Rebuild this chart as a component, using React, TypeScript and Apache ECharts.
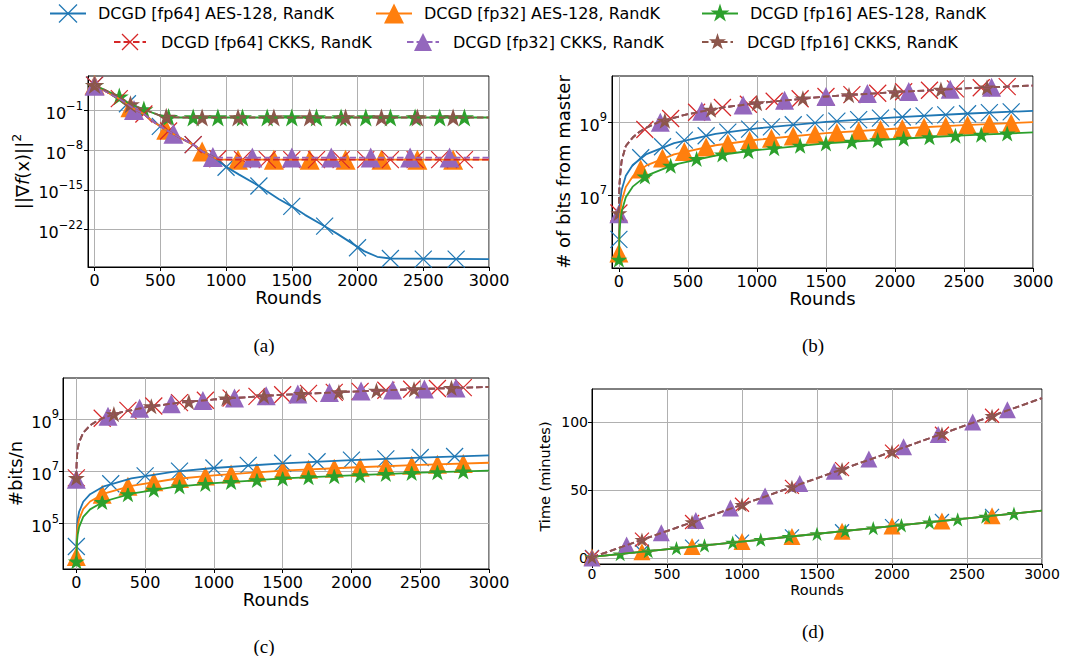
import React, { useEffect, useRef } from 'react';
import * as echarts from 'echarts';

const FONT = 'DejaVu Sans';

// ---------- series meta ----------
const SERIES_NAMES = [
  'DCGD [fp64] AES-128, RandK',
  'DCGD [fp32] AES-128, RandK',
  'DCGD [fp16] AES-128, RandK',
  'DCGD [fp64] CKKS, RandK',
  'DCGD [fp32] CKKS, RandK',
  'DCGD [fp16] CKKS, RandK',
];
const COLORS = ['#1f77b4', '#ff7f0e', '#2ca02c', '#d62728', '#9467bd', '#8c564b'];
const SHAPES = ['x', 'triangle', 'star', 'x', 'triangle', 'star'];
const DASHED = [false, false, false, true, true, true];

// ---------- tick values ----------
const ROUNDS_TICKS = [0, 500, 1000, 1500, 2000, 2500, 3000];
const A_Y_TICKS = [-22, -15, -8, -1]; // log10 exponents
const B_Y_TICKS = [7, 9];
const C_Y_TICKS = [5, 7, 9];
const D_Y_TICKS = [0, 50, 100];

// ---------- (a) ||grad f(x)||^2, log10 values ----------
const A_LINE_FP64_AES = [[0, 3.5], [100, 2.2], [200, 0.9], [250, 0.2], [300, -0.7], [375, -1.6], [450, -3.0], [550, -4.5], [650, -5.8], [750, -7.0], [820, -8.2], [900, -9.1], [1000, -10.9], [1100, -12.3], [1250, -14.3], [1400, -16.6], [1500, -17.9], [1600, -19.4], [1750, -21.4], [1850, -22.8], [1950, -24.3], [2050, -25.8], [2150, -26.8], [2250, -27.1], [3000, -27.2]];
const A_LINE_FP32_AES = [[0, 3.5], [100, 2.2], [200, 0.9], [250, 0.2], [300, -0.7], [375, -1.6], [450, -3.0], [550, -4.5], [650, -5.8], [750, -7.0], [820, -8.2], [900, -9.2], [940, -9.66], [3000, -9.66]];
const A_LINE_FP16_AES = [[0, 3.5], [100, 2.4], [190, 1.45], [265, 0.2], [385, -0.9], [480, -1.7], [560, -2.15], [650, -2.22], [3000, -2.22]];
const A_LINE_FP64_CKKS = [[0, 3.5], [100, 2.2], [200, 0.9], [250, 0.2], [300, -0.7], [375, -1.6], [450, -3.0], [550, -4.5], [650, -5.8], [750, -7.0], [820, -8.2], [900, -9.2], [950, -9.66], [3000, -9.66]];
const A_LINE_FP32_CKKS = [[0, 3.5], [100, 2.2], [200, 0.9], [250, 0.2], [300, -0.7], [375, -1.6], [450, -3.0], [550, -4.5], [650, -5.8], [750, -7.0], [820, -8.2], [900, -9.2], [930, -9.3], [3000, -9.3]];
const A_LINE_FP16_CKKS = [[0, 3.5], [100, 2.4], [190, 1.45], [265, 0.2], [385, -0.9], [480, -1.7], [560, -2.15], [650, -2.22], [3000, -2.22]];

const A_MARK_FP64_AES = [[0, 3.5], [250, 0.2], [500, -3.8], [750, -7.0], [1000, -11.0], [1250, -14.3], [1500, -17.9], [1750, -21.4], [2000, -25.2], [2250, -27.1], [2500, -27.2], [2750, -27.2]];
const A_MARK_FP32_AES = [[0, 3.5], [273, -0.4], [545, -4.4], [818, -8.2], [1091, -9.66], [1364, -9.66], [1636, -9.66], [1909, -9.66], [2182, -9.66], [2455, -9.66], [2727, -9.66]];
const A_MARK_FP16_AES = [[0, 3.5], [188, 1.47], [375, -0.8], [563, -2.15], [750, -2.22], [938, -2.22], [1125, -2.22], [1313, -2.22], [1500, -2.22], [1688, -2.22], [1875, -2.22], [2063, -2.22], [2250, -2.22], [2438, -2.22], [2625, -2.22], [2813, -2.22]];
const A_MARK_FP64_CKKS = [[0, 3.5], [188, 1.1], [375, -1.6], [563, -4.6], [750, -7.0], [938, -9.5], [1125, -9.66], [1313, -9.66], [1500, -9.66], [1688, -9.66], [1875, -9.66], [2063, -9.66], [2250, -9.66], [2438, -9.66], [2625, -9.66], [2813, -9.66]];
const A_MARK_FP32_CKKS = [[0, 3.4], [300, -0.9], [600, -5.1], [900, -9.2], [1200, -9.3], [1500, -9.3], [1800, -9.3], [2100, -9.3], [2400, -9.3], [2700, -9.3]];
const A_MARK_FP16_CKKS = [[0, 3.5], [273, 0.1], [545, -2.1], [818, -2.22], [1091, -2.22], [1364, -2.22], [1636, -2.22], [1909, -2.22], [2182, -2.22], [2455, -2.22], [2727, -2.22]];

// ---------- (b) # of bits from master, log10 values ----------
const B_LINE_FP64_AES = [[0, 5.8], [5, 6.6], [10, 6.87], [20, 7.15], [50, 7.54], [100, 7.83], [200, 8.13], [400, 8.43], [700, 8.68], [1000, 8.83], [1500, 9.01], [2000, 9.13], [2500, 9.23], [3000, 9.31]];
const B_LINE_FP32_AES = [[0, 5.43], [5, 6.3], [10, 6.56], [20, 6.84], [50, 7.23], [100, 7.52], [200, 7.82], [400, 8.12], [700, 8.37], [1000, 8.52], [1500, 8.7], [2000, 8.82], [2500, 8.92], [3000, 9.0]];
const B_LINE_FP16_AES = [[0, 5.25], [5, 6.02], [10, 6.28], [20, 6.56], [50, 6.95], [100, 7.24], [200, 7.54], [400, 7.84], [700, 8.09], [1000, 8.24], [1500, 8.42], [2000, 8.54], [2500, 8.64], [3000, 8.72]];
const B_LINE_CKKS = [[0, 6.52], [1, 6.85], [2, 7.02], [5, 7.35], [10, 7.6], [20, 7.95], [50, 8.35], [100, 8.58], [150, 8.74], [200, 8.85], [300, 9.02], [500, 9.22], [750, 9.4], [1000, 9.52], [1500, 9.7], [2000, 9.82], [2500, 9.92], [3000, 10.0]];

const B_MARK_FP64_AES = [[0, 5.8], [158, 8.03], [316, 8.33], [474, 8.51], [632, 8.63], [789, 8.73], [947, 8.81], [1105, 8.87], [1263, 8.93], [1421, 8.98], [1579, 9.03], [1737, 9.07], [1895, 9.11], [2053, 9.14], [2211, 9.17], [2368, 9.2], [2526, 9.23], [2684, 9.26], [2842, 9.28]];
const B_MARK_FP32_AES = [[0, 5.43], [158, 7.72], [316, 8.02], [474, 8.2], [632, 8.32], [789, 8.42], [947, 8.5], [1105, 8.56], [1263, 8.62], [1421, 8.67], [1579, 8.72], [1737, 8.76], [1895, 8.8], [2053, 8.83], [2211, 8.86], [2368, 8.89], [2526, 8.92], [2684, 8.95], [2842, 8.97]];
const B_MARK_FP16_AES = [[0, 5.25], [188, 7.52], [375, 7.81], [563, 8.0], [750, 8.12], [938, 8.21], [1125, 8.29], [1313, 8.36], [1500, 8.42], [1688, 8.47], [1875, 8.51], [2063, 8.55], [2250, 8.59], [2438, 8.63], [2625, 8.66], [2813, 8.69]];
const B_MARK_FP64_CKKS = [[0, 6.52], [188, 8.8], [375, 9.1], [563, 9.27], [750, 9.4], [938, 9.49], [1125, 9.57], [1313, 9.64], [1500, 9.7], [1688, 9.75], [1875, 9.79], [2063, 9.83], [2250, 9.87], [2438, 9.91], [2625, 9.94], [2813, 9.97]];
const B_MARK_FP32_CKKS = [[0, 6.5], [300, 9.0], [600, 9.3], [900, 9.47], [1200, 9.6], [1500, 9.7], [1800, 9.78], [2100, 9.84], [2400, 9.9], [2700, 9.95]];
const B_MARK_FP16_CKKS = [[0, 6.52], [333, 9.04], [667, 9.34], [1000, 9.52], [1333, 9.65], [1667, 9.74], [2000, 9.82], [2333, 9.89], [2667, 9.95]];

// ---------- (c) #bits/n, log10 values ----------
const C_LINE_FP64_AES = [[0, 4.13], [5, 4.9], [10, 5.17], [20, 5.45], [50, 5.84], [100, 6.13], [200, 6.43], [400, 6.73], [700, 6.98], [1000, 7.13], [1500, 7.31], [2000, 7.43], [2500, 7.53], [3000, 7.61]];
const C_LINE_FP32_AES = [[0, 3.75], [5, 4.63], [10, 4.89], [20, 5.17], [50, 5.56], [100, 5.85], [200, 6.15], [400, 6.45], [700, 6.7], [1000, 6.85], [1500, 7.03], [2000, 7.15], [2500, 7.25], [3000, 7.33]];
const C_LINE_FP16_AES = [[0, 3.56], [5, 4.33], [10, 4.59], [20, 4.87], [50, 5.26], [100, 5.55], [200, 5.85], [400, 6.15], [700, 6.4], [1000, 6.55], [1500, 6.73], [2000, 6.85], [2500, 6.95], [3000, 7.03]];
const C_LINE_CKKS = [[0, 6.75], [1, 7.1], [2, 7.3], [5, 7.6], [10, 7.85], [20, 8.12], [50, 8.48], [100, 8.76], [150, 8.93], [200, 9.05], [300, 9.23], [500, 9.45], [750, 9.63], [1000, 9.75], [1500, 9.93], [2000, 10.05], [2500, 10.15], [3000, 10.23]];

const C_MARK_FP64_AES = [[0, 4.13], [250, 6.53], [500, 6.83], [750, 7.01], [1000, 7.13], [1250, 7.23], [1500, 7.31], [1750, 7.37], [2000, 7.43], [2250, 7.48], [2500, 7.53], [2750, 7.57]];
const C_MARK_FP32_AES = [[0, 3.75], [188, 6.13], [375, 6.43], [563, 6.6], [750, 6.73], [938, 6.82], [1125, 6.9], [1313, 6.97], [1500, 7.03], [1688, 7.08], [1875, 7.12], [2063, 7.16], [2250, 7.2], [2438, 7.24], [2625, 7.27], [2813, 7.3]];
const C_MARK_FP16_AES = [[0, 3.56], [188, 5.83], [375, 6.13], [563, 6.3], [750, 6.43], [938, 6.52], [1125, 6.6], [1313, 6.67], [1500, 6.73], [1688, 6.78], [1875, 6.82], [2063, 6.86], [2250, 6.9], [2438, 6.94], [2625, 6.97], [2813, 7.0]];
const C_MARK_FP64_CKKS = [[0, 6.75], [188, 9.03], [375, 9.33], [563, 9.5], [750, 9.63], [938, 9.72], [1125, 9.8], [1313, 9.87], [1500, 9.93], [1688, 9.98], [1875, 10.02], [2063, 10.06], [2250, 10.1], [2438, 10.14], [2625, 10.17], [2813, 10.2]];
const C_MARK_FP32_CKKS = [[0, 6.7], [230, 9.11], [460, 9.41], [690, 9.59], [920, 9.71], [1150, 9.81], [1380, 9.89], [1610, 9.96], [1840, 10.02], [2070, 10.07], [2300, 10.11], [2530, 10.15], [2760, 10.19]];
const C_MARK_FP16_CKKS = [[0, 6.75], [273, 9.19], [545, 9.49], [818, 9.66], [1091, 9.79], [1364, 9.88], [1636, 9.96], [1909, 10.03], [2182, 10.09], [2455, 10.14], [2727, 10.19]];

// ---------- (d) Time (minutes) ----------
const D_LINE_AES = [[0, 0.8], [1000, 12.1], [2000, 23.5], [3000, 34.8]];
const D_LINE_CKKS = [[0, 0.5], [1000, 39.2], [2000, 78.2], [3000, 117.6]];

const D_MARK_FP64_AES = [[0, 0.8], [333, 4.6], [667, 8.4], [1000, 12.1], [1333, 15.9], [1667, 19.7], [2000, 23.5], [2333, 27.2], [2667, 31.0]];
const D_MARK_FP32_AES = [[0, 0.8], [333, 4.6], [667, 8.4], [1000, 12.1], [1333, 15.9], [1667, 19.7], [2000, 23.5], [2333, 27.2], [2667, 31.0]];
const D_MARK_FP16_AES = [[0, 0.8], [188, 2.9], [375, 5.0], [563, 7.2], [750, 9.3], [938, 11.4], [1125, 13.5], [1313, 15.7], [1500, 17.8], [1688, 19.9], [1875, 22.0], [2063, 24.1], [2250, 26.3], [2438, 28.4], [2625, 30.5], [2813, 32.6]];
const D_MARK_FP64_CKKS = [[0, 0.5], [333, 13.5], [667, 26.5], [1000, 39.2], [1333, 52.3], [1667, 65.4], [2000, 78.2], [2333, 91.4], [2667, 104.6]];
const D_MARK_FP32_CKKS = [[0, 0.0], [231, 9.5], [462, 18.5], [692, 27.5], [923, 36.7], [1154, 45.7], [1385, 54.8], [1615, 63.8], [1846, 72.8], [2077, 81.9], [2308, 90.9], [2538, 100.0], [2769, 109.0]];
const D_MARK_FP16_CKKS = [[0, 0.5], [333, 13.5], [667, 26.5], [1000, 39.2], [1333, 52.3], [1667, 65.4], [2000, 78.2], [2333, 91.4], [2667, 104.6]];

// ---------- panels (layout) ----------
const STAR_UNIT = [[0, -1], [0.2245, -0.309], [0.951, -0.309], [0.363, 0.118], [0.588, 0.809], [0, 0.382], [-0.588, 0.809], [-0.363, 0.118], [-0.951, -0.309], [-0.2245, -0.309]];
const STAR_PATH = 'path://' + STAR_UNIT.map((p, i) => (i === 0 ? 'M' : 'L') + (p[0] + 1).toFixed(4) + ',' + (p[1] + 1).toFixed(4)).join('') + 'Z';
const X_PATH = 'path://M0,0L10,10M10,0L0,10';

const supMinus = (v: number) => (v < 0 ? '\u2212' + String(-v) : String(v));

const PANELS = [
  {
    grid: { left: 88, top: 76, width: 401, height: 191 },
    xMin: -50, yMin: -28.6, yMax: 5.1, yTicks: A_Y_TICKS, log: true,
    yName: '||\u2207{i|f}(x)||{s|2}', yNameGap: 48, xNameGap: 21, tick: 16, nameSize: 18, yLabelMargin: 5, xLabelMargin: 5,
    lines: [A_LINE_FP64_AES, A_LINE_FP32_AES, A_LINE_FP16_AES, A_LINE_FP64_CKKS, A_LINE_FP32_CKKS, A_LINE_FP16_CKKS],
    marks: [A_MARK_FP64_AES, A_MARK_FP32_AES, A_MARK_FP16_AES, A_MARK_FP64_CKKS, A_MARK_FP32_CKKS, A_MARK_FP16_CKKS],
    sizes: { x: 17, triangle: 20, star: 19 },
  },
  {
    grid: { left: 612, top: 76, width: 421, height: 192 },
    xMin: -50, yMin: 5.02, yMax: 10.26, yTicks: B_Y_TICKS, log: true,
    yName: '# of bits from master', yNameGap: 35, xNameGap: 20, tick: 16, nameSize: 18, yLabelMargin: 5, xLabelMargin: 5,
    lines: [B_LINE_FP64_AES, B_LINE_FP32_AES, B_LINE_FP16_AES, B_LINE_CKKS, B_LINE_CKKS, B_LINE_CKKS],
    marks: [B_MARK_FP64_AES, B_MARK_FP32_AES, B_MARK_FP16_AES, B_MARK_FP64_CKKS, B_MARK_FP32_CKKS, B_MARK_FP16_CKKS],
    sizes: { x: 17, triangle: 19, star: 17 },
  },
  {
    grid: { left: 63, top: 378, width: 426, height: 191 },
    xMin: -97, yMin: 3.27, yMax: 10.57, yTicks: C_Y_TICKS, log: true,
    yName: '#bits/n', yNameGap: 35, xNameGap: 21, tick: 16, nameSize: 18, yLabelMargin: 4, xLabelMargin: 5,
    lines: [C_LINE_FP64_AES, C_LINE_FP32_AES, C_LINE_FP16_AES, C_LINE_CKKS, C_LINE_CKKS, C_LINE_CKKS],
    marks: [C_MARK_FP64_AES, C_MARK_FP32_AES, C_MARK_FP16_AES, C_MARK_FP64_CKKS, C_MARK_FP32_CKKS, C_MARK_FP16_CKKS],
    sizes: { x: 17, triangle: 19, star: 17 },
  },
  {
    grid: { left: 592, top: 389, width: 450, height: 175 },
    xMin: 0, yMin: -4.4, yMax: 124.3, yTicks: D_Y_TICKS, log: false,
    yName: 'Time (minutes)', yNameGap: 32, xNameGap: 18, tick: 14, nameSize: 14.5, yLabelMargin: 4, xLabelMargin: 3,
    lines: [D_LINE_AES, D_LINE_AES, D_LINE_AES, D_LINE_CKKS, D_LINE_CKKS, D_LINE_CKKS],
    marks: [D_MARK_FP64_AES, D_MARK_FP32_AES, D_MARK_FP16_AES, D_MARK_FP64_CKKS, D_MARK_FP32_CKKS, D_MARK_FP16_CKKS],
    sizes: { x: 14, triangle: 17, star: 15 },
  },
];

const CAPTIONS = [
  { text: '(a)', x: 264, y: 345 },
  { text: '(b)', x: 813, y: 345 },
  { text: '(c)', x: 264, y: 646 },
  { text: '(d)', x: 813, y: 631 },
];

const LEGEND_LAYOUT = [
  { x1: 50, x2: 86, cx: 68, y: 13.5, tx: 98, size: 18 },
  { x1: 376, x2: 412, cx: 394, y: 13.5, tx: 424, size: 20 },
  { x1: 702, x2: 738, cx: 720, y: 13.5, tx: 750, size: 20 },
  { x1: 114, x2: 146, cx: 130, y: 42, tx: 161, size: 16 },
  { x1: 407, x2: 439, cx: 423, y: 42, tx: 453, size: 18 },
  { x1: 702, x2: 733, cx: 717.5, y: 42, tx: 747, size: 18 },
];

function symbolFor(k: number, sizes: any) {
  const shape = SHAPES[k];
  if (shape === 'x') return { symbol: X_PATH, symbolSize: sizes.x };
  if (shape === 'triangle') return { symbol: 'triangle', symbolSize: sizes.triangle };
  return { symbol: STAR_PATH, symbolSize: [sizes.star, sizes.star * 0.951] };
}

function legendGraphics() {
  const els: any[] = [];
  LEGEND_LAYOUT.forEach((L, k) => {
    const c = COLORS[k];
    els.push({
      type: 'line', silent: true,
      shape: { x1: L.x1, y1: L.y, x2: L.x2, y2: L.y },
      style: { stroke: c, lineWidth: 1.8, lineDash: DASHED[k] ? [6.5, 3] : null },
    });
    const s = L.size;
    if (SHAPES[k] === 'x') {
      els.push({ type: 'line', silent: true, shape: { x1: L.cx - s / 2, y1: L.y - s / 2, x2: L.cx + s / 2, y2: L.y + s / 2 }, style: { stroke: c, lineWidth: 1.2 } });
      els.push({ type: 'line', silent: true, shape: { x1: L.cx + s / 2, y1: L.y - s / 2, x2: L.cx - s / 2, y2: L.y + s / 2 }, style: { stroke: c, lineWidth: 1.2 } });
    } else if (SHAPES[k] === 'triangle') {
      els.push({ type: 'polygon', silent: true, shape: { points: [[L.cx, L.y - s / 2], [L.cx + s / 2, L.y + s / 2], [L.cx - s / 2, L.y + s / 2]] }, style: { fill: c } });
    } else {
      els.push({ type: 'polygon', silent: true, shape: { points: STAR_UNIT.map((p) => [L.cx + p[0] * s / 2, L.y + p[1] * s / 2]) }, style: { fill: c } });
    }
    els.push({
      type: 'text', silent: true, x: L.tx, y: L.y,
      style: { text: SERIES_NAMES[k], fill: '#000', fontSize: 16, fontFamily: FONT, align: 'left', verticalAlign: 'middle' },
    });
  });
  CAPTIONS.forEach((c) => {
    els.push({
      type: 'text', silent: true, x: c.x, y: c.y,
      style: { text: c.text, fill: '#000', fontSize: 19, fontFamily: 'Liberation Serif', align: 'center', verticalAlign: 'middle' },
    });
  });
  return els;
}

function buildOption() {
  const series: any[] = [];
  PANELS.forEach((p, gi) => {
    for (let k = 0; k < 6; k++) {
      series.push({
        type: 'line', name: SERIES_NAMES[k], xAxisIndex: gi, yAxisIndex: gi,
        data: p.lines[k], symbol: 'none', showSymbol: false, silent: true,
        lineStyle: { color: COLORS[k], width: 1.8, type: DASHED[k] ? [6.5, 3] : 'solid' },
        emphasis: { disabled: true },
      });
      const sym = symbolFor(k, p.sizes);
      const isX = SHAPES[k] === 'x';
      series.push({
        type: 'scatter', name: SERIES_NAMES[k], xAxisIndex: gi, yAxisIndex: gi,
        data: p.marks[k], silent: true, ...sym,
        itemStyle: isX
          ? { color: 'rgba(0,0,0,0)', borderColor: COLORS[k], borderWidth: 1.2, opacity: 1 }
          : { color: COLORS[k], borderWidth: 0, opacity: 1 },
        emphasis: { disabled: true },
      });
    }
  });

  return {
    animation: false,
    backgroundColor: '#fff',
    textStyle: { fontFamily: FONT },
    grid: PANELS.map((p) => ({ ...p.grid, show: true, borderColor: '#000', borderWidth: 1, backgroundColor: 'rgba(0,0,0,0)', containLabel: false, outerBoundsMode: 'none' })),
    xAxis: PANELS.map((p, i) => ({
      type: 'value', gridIndex: i, min: p.xMin, max: 3000,
      name: 'Rounds', nameLocation: 'middle', nameGap: p.xNameGap,
      nameTextStyle: { fontSize: p.nameSize, color: '#000', fontFamily: FONT },
      axisLine: { show: true, onZero: false, lineStyle: { color: '#000', width: 1 } },
      axisTick: { show: true, inside: false, length: 4, customValues: ROUNDS_TICKS, lineStyle: { color: '#000', width: 1 } },
      axisLabel: { customValues: ROUNDS_TICKS, fontSize: p.tick, color: '#000', margin: p.xLabelMargin, fontFamily: FONT, formatter: (v: number) => String(v) },
      splitLine: { show: true, lineStyle: { color: '#b0b0b0', width: 1 } },
    })),
    yAxis: PANELS.map((p, i) => ({
      type: 'value', gridIndex: i, min: p.yMin, max: p.yMax,
      name: p.yName, nameLocation: 'middle', nameGap: p.yNameGap,
      nameTextStyle: {
        fontSize: p.nameSize, color: '#000', fontFamily: FONT, lineHeight: 24,
        rich: {
          i: { fontSize: p.nameSize, fontStyle: 'italic', fontFamily: FONT, color: '#000', lineHeight: 24 },
          s: { fontSize: 12.5, fontFamily: FONT, color: '#000', lineHeight: 14, verticalAlign: 'top' },
        },
      },
      axisLine: { show: true, onZero: false, lineStyle: { color: '#000', width: 1 } },
      axisTick: { show: true, inside: false, length: 4, customValues: p.yTicks, lineStyle: { color: '#000', width: 1 } },
      axisLabel: {
        customValues: p.yTicks, fontSize: p.tick, color: '#000', margin: p.yLabelMargin, fontFamily: FONT,
        formatter: p.log ? (v: number) => `{b|10}{e|${supMinus(Math.round(v))}}` : (v: number) => String(v),
        rich: {
          b: { fontSize: 16, fontFamily: FONT, color: '#000', lineHeight: 22, verticalAlign: 'bottom' },
          e: { fontSize: 11.5, fontFamily: FONT, color: '#000', lineHeight: 12, verticalAlign: 'top' },
        },
      },
      splitLine: { show: true, lineStyle: { color: '#b0b0b0', width: 1 } },
    })),
    series,
    graphic: legendGraphics(),
  };
}

export default function App() {
  const ref = useRef<HTMLDivElement>(null);
  useEffect(() => {
    if (!ref.current) return;
    const chart = echarts.init(ref.current, null, { renderer: 'svg', width: 1069, height: 656 });
    chart.setOption(buildOption() as any);
    return () => chart.dispose();
  }, []);
  return (
    <div
      ref={ref}
      style={{ position: 'absolute', left: 0, top: 0, width: 1069, height: 656, background: '#fff' }}
    />
  );
}
